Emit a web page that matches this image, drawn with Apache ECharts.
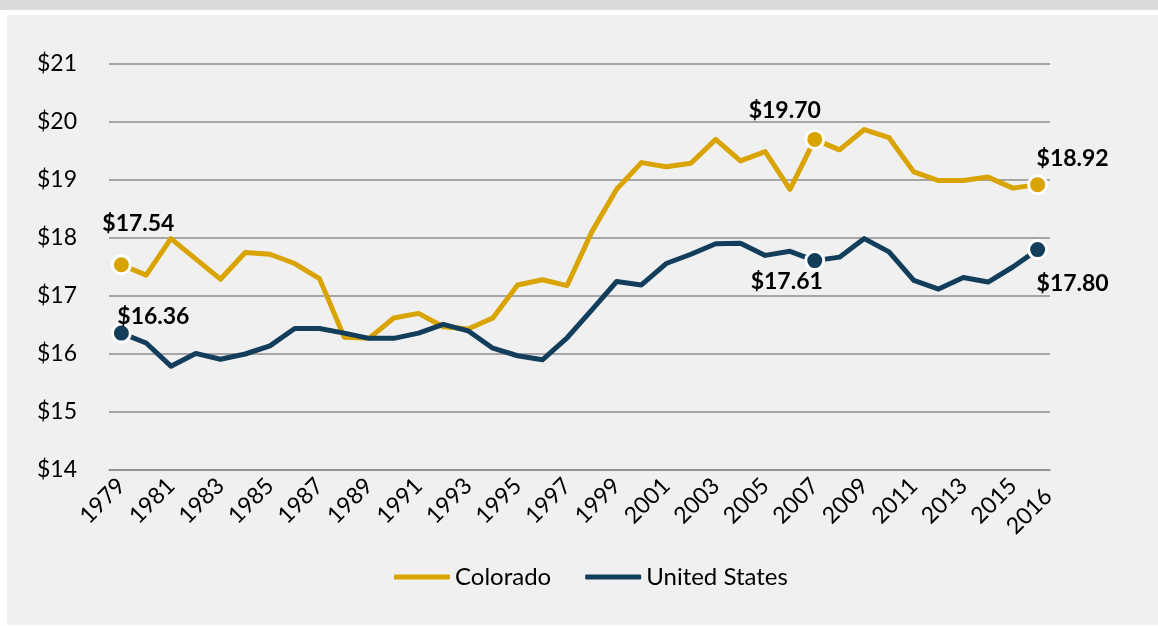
<!DOCTYPE html>
<html>
<head>
<meta charset="utf-8">
<title>Colorado vs United States</title>
<script src="https://cdn.jsdelivr.net/npm/echarts@6/dist/echarts.min.js"></script>
<style>
	html, body { margin: 0; padding: 0; background: #fff; }
	#topband { position: absolute; left: 0; top: 0; width: 1158px; height: 10px; background: #d9d9d9; }
	#panel { position: absolute; left: 7px; top: 15px; width: 1151px; height: 610px; background: #f0f0f0; }
	#main { position: absolute; left: 0; top: 0; width: 1158px; height: 626px; }
</style>
</head>
<body>
<div id="topband"></div>
<div id="panel"></div>
<div id="main"></div>
<script>
// data
var years = ['1979','1980','1981','1982','1983','1984','1985','1986','1987','1988',
	'1989','1990','1991','1992','1993','1994','1995','1996','1997','1998',
	'1999','2000','2001','2002','2003','2004','2005','2006','2007','2008',
	'2009','2010','2011','2012','2013','2014','2015','2016'];

var colorado = [17.54,17.36,17.99,17.64,17.29,17.75,17.72,17.56,17.30,16.29,
	16.27,16.62,16.70,16.47,16.43,16.62,17.19,17.28,17.18,18.11,
	18.84,19.30,19.23,19.29,19.70,19.33,19.49,18.84,19.70,19.52,
	19.87,19.73,19.14,18.99,18.99,19.05,18.86,18.92];

var unitedStates = [16.36,16.19,15.79,16.01,15.91,16.00,16.14,16.44,16.44,16.36,
	16.27,16.27,16.36,16.51,16.40,16.10,15.97,15.90,16.28,16.76,
	17.25,17.19,17.56,17.72,17.90,17.91,17.70,17.77,17.61,17.67,
	17.99,17.76,17.27,17.12,17.32,17.24,17.50,17.80];

var yTicks = [14, 15, 16, 17, 18, 19, 20, 21];

// points that get a marker + value label (1979, 2007, 2016)
var markIdx = [0, 28, 37];

// label offsets from the marker centre
var coOffsets = [[17, -41], [-30, -29], [35, -26]];
var usOffsets = [[32, -17], [-28, 21], [35, 34]];

var font = 'Lato, "Open Sans", sans-serif';

function buildData(values, color, offsets){
	var out = [];
	for(var i = 0; i < values.length; i++){
		var k = markIdx.indexOf(i);
		if(k < 0){
			out.push(values[i]);
		}else{
			out.push({
				value: values[i],
				symbolSize: 18,
				itemStyle: { color: color, borderColor: '#fff', borderWidth: 3 },
				label: {
					show: true,
					position: 'inside',
					offset: offsets[k],
					formatter: function(p){ return '$' + p.value.toFixed(2); },
					fontFamily: font,
					fontWeight: 'bold',
					fontSize: 23,
					color: '#000'
				}
			});
		}
	}
	return out;
}

var myChart = echarts.init(document.getElementById('main'));

var option = {
	backgroundColor: 'transparent',
	animation: false,
	grid: { left: 109, right: 108, top: 64, bottom: 156 },
	legend: {
		left: 394,
		top: 565,
		padding: 0,
		itemGap: 34,
		itemWidth: 56,
		itemHeight: 5,
		icon: 'roundRect',
		textStyle: { fontFamily: font, fontSize: 24, color: '#000' },
		data: ['Colorado', 'United States']
	},
	xAxis: {
		type: 'category',
		data: years,
		boundaryGap: true,
		axisLine: { lineStyle: { color: '#8c8c8c', width: 1.5 } },
		axisTick: { interval: 0, length: 7, lineStyle: { color: '#8c8c8c', width: 1.5 } },
		axisLabel: {
			interval: function(i){ return i % 2 === 0 || i === years.length - 1; },
			rotate: 45,
			margin: 12,
			fontFamily: font,
			fontSize: 23,
			color: '#000',
			formatter: function(v, i){
				if(i === years.length - 1) return '{late|' + v + '}';
				return v;
			},
			rich: {
				late: { fontFamily: font, fontSize: 23, color: '#000', padding: [30, 0, 0, 0] }
			}
		},
		splitLine: { show: false }
	},
	yAxis: {
		type: 'value',
		min: yTicks[0],
		max: yTicks[yTicks.length - 1],
		interval: 1,
		axisLine: { show: false },
		axisTick: { show: false },
		axisLabel: {
			margin: 32,
			fontFamily: font,
			fontSize: 23,
			color: '#000',
			formatter: function(v){ return '$' + v; }
		},
		splitLine: { lineStyle: { color: '#8c8c8c', width: 1.5 } }
	},
	series: [
		{
			name: 'Colorado',
			type: 'line',
			data: buildData(colorado, '#d9a300', coOffsets),
			symbol: 'circle',
			symbolSize: 0,
			itemStyle: { color: '#d9a300' },
			lineStyle: { color: '#d9a300', width: 5, cap: 'round', join: 'round' },
			z: 3
		},
		{
			name: 'United States',
			type: 'line',
			data: buildData(unitedStates, '#123e5c', usOffsets),
			symbol: 'circle',
			symbolSize: 0,
			itemStyle: { color: '#123e5c' },
			lineStyle: { color: '#123e5c', width: 5, cap: 'round', join: 'round' },
			z: 4
		}
	]
};

myChart.setOption(option);
</script>
</body>
</html>
